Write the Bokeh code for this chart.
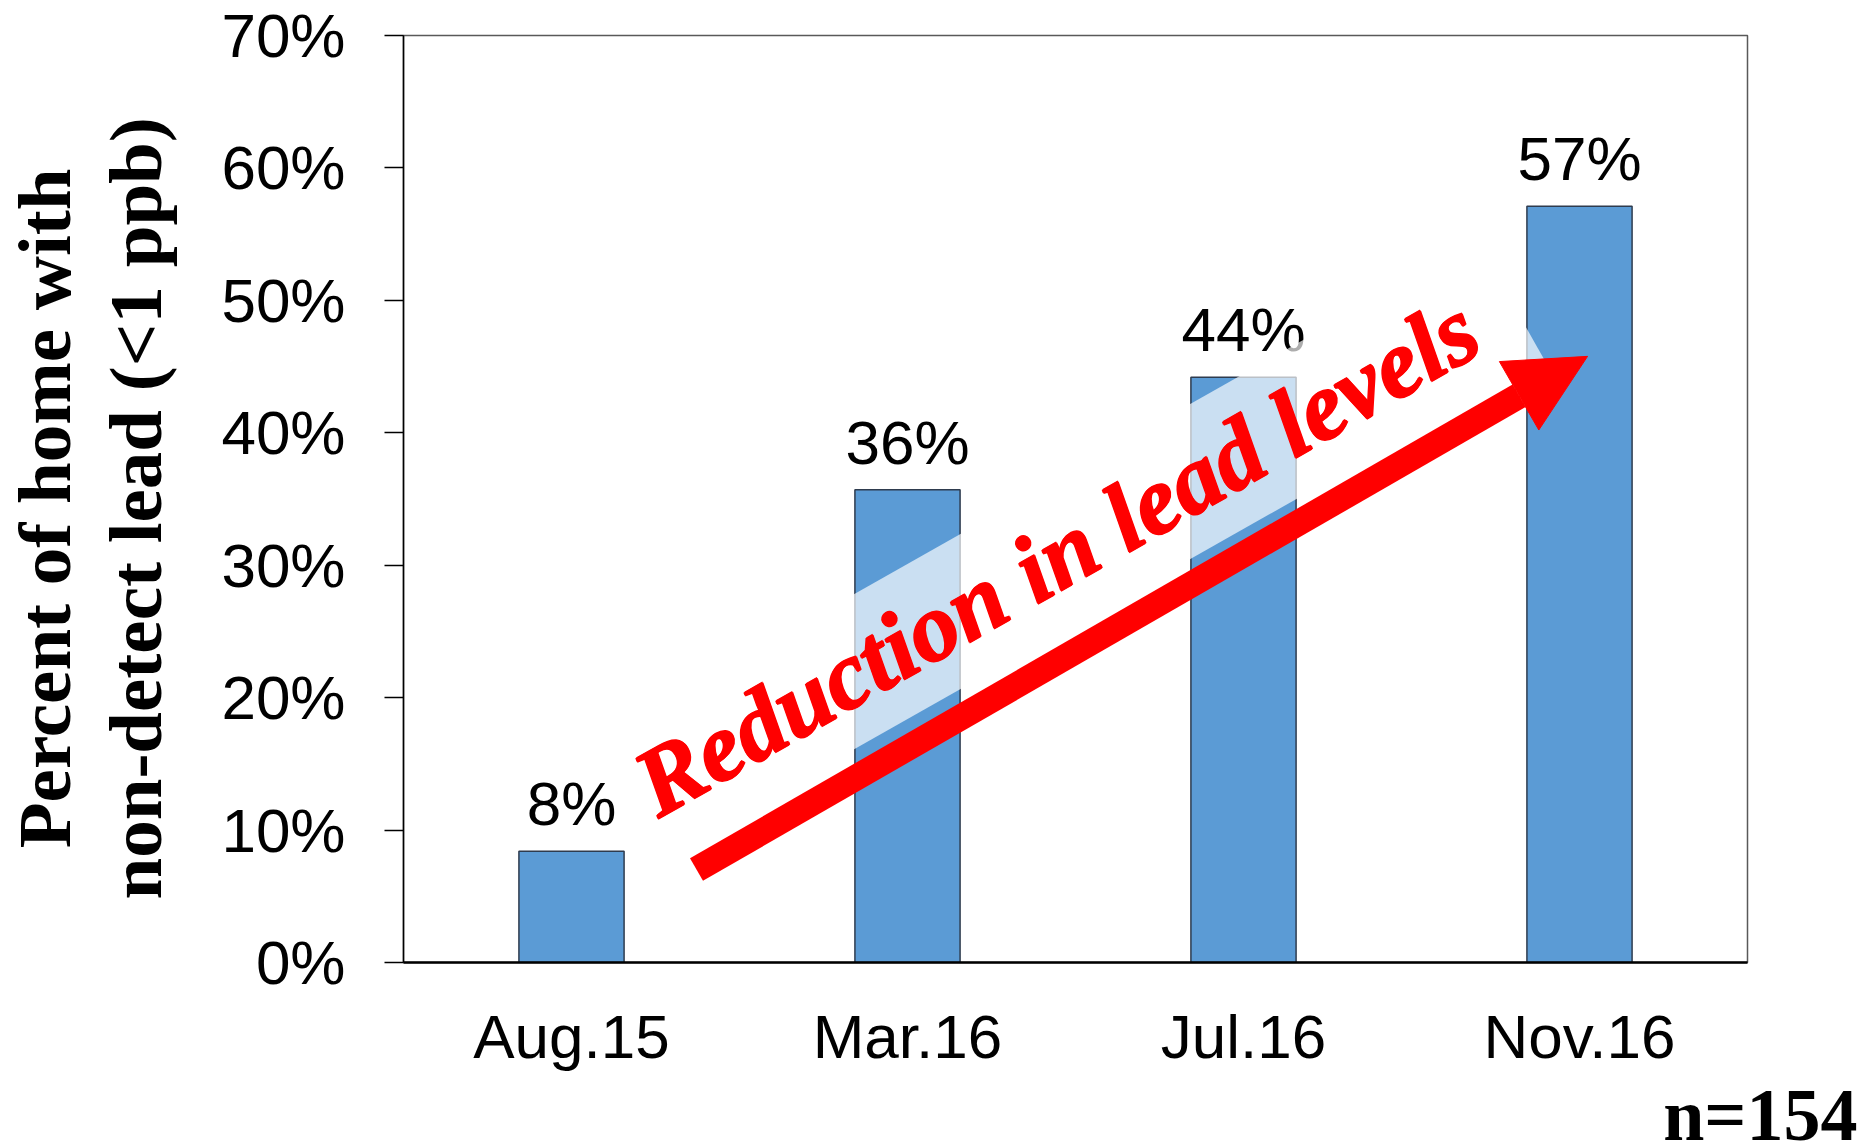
from bokeh.plotting import figure
from bokeh.models import (ColumnDataSource, Range1d, FactorRange, NumeralTickFormatter,
                          FixedTicker, Label, Arrow, NormalHead, Title)
from bokeh.core.properties import value
from bokeh.embed import file_html
from bokeh.resources import INLINE
import math

# ---- data ----
categories = ["Aug.15", "Mar.16", "Jul.16", "Nov.16"]
share_non_detect = [0.084, 0.357, 0.442, 0.571]
bar_labels = ["8%", "36%", "44%", "57%"]
y_ticks = [0.0, 0.1, 0.2, 0.3, 0.4, 0.5, 0.6, 0.7]
y_title = "Percent of home with \nnon-detect lead (<1 ppb) "
trend_text = "Reduction in lead levels"
sample_note = "n=154"

src = ColumnDataSource(dict(cat=categories, val=share_non_detect, lbl=bar_labels))

p = figure(x_range=FactorRange(factors=categories, range_padding=0, factor_padding=0),
           y_range=Range1d(0, 0.7),
           frame_width=1344, frame_height=927,
           min_border_left=401, min_border_right=119,
           min_border_top=35, min_border_bottom=170,
           output_backend="svg", toolbar_location=None)

p.background_fill_color = "white"
p.border_fill_color = "white"
p.outline_line_color = "#595959"
p.outline_line_width = 1.5
p.xgrid.visible = False
p.ygrid.visible = False

SANS = "Liberation Sans"
SERIF = "Liberation Serif"

# y axis
p.yaxis.ticker = FixedTicker(ticks=y_ticks)
p.yaxis.formatter = NumeralTickFormatter(format="0%")
p.yaxis.major_tick_out = 19
p.yaxis.major_tick_in = 0
p.yaxis.minor_tick_out = 0
p.yaxis.minor_tick_in = 0
p.yaxis.major_tick_line_color = "black"
p.yaxis.major_tick_line_width = 1.5
p.yaxis.axis_line_color = "black"
p.yaxis.axis_line_width = 1.5
p.yaxis.major_label_standoff = 39
p.yaxis.major_label_text_font = SANS
p.yaxis.major_label_text_font_size = "62px"
p.yaxis.major_label_text_color = "black"
p.yaxis.axis_label = y_title
p.yaxis.axis_label_text_font = SERIF
p.yaxis.axis_label_text_font_style = "bold"
p.yaxis.axis_label_text_font_size = "75px"
p.yaxis.axis_label_text_line_height = 1.1
p.yaxis.axis_label_text_color = "black"
p.yaxis.axis_label_standoff = 41

# x axis
p.xaxis.major_tick_out = 0
p.xaxis.major_tick_in = 0
p.xaxis.minor_tick_out = 0
p.xaxis.axis_line_color = "black"
p.xaxis.axis_line_width = 2.5
p.xaxis.major_label_standoff = 39
p.xaxis.major_label_text_font = SANS
p.xaxis.major_label_text_font_size = "62px"
p.xaxis.major_label_text_color = "black"

# bars
p.vbar(x="cat", top="val", width=0.313, source=src,
       fill_color="#5B9BD5", line_color="#2E3B4E", line_width=1.5)

# value labels
p.text(x="cat", y="val", text="lbl", source=src,
       text_align="center", text_baseline="bottom", y_offset=-13,
       text_font=value(SANS), text_font_size="62px", text_color="black")

# trend text with translucent band
angle = math.radians(29.5)
text_x, text_y = 1.978, 0.311
pad = dict(left=20, right=46, top=13, bottom=15)
band = Label(x=text_x, y=text_y, text=trend_text, angle=angle,
             text_align="center", text_baseline="middle",
             text_font=SERIF, text_font_style="bold italic", text_font_size="97px",
             text_color="#FF0000",
             background_fill_color="white", background_fill_alpha=0.68,
             padding=pad)
p.add_layout(band)
# slight thickening of the heavy red lettering (same box, no fill)
for dx, dy in [(1, 0), (-1, 0), (0, 1), (0, -1)]:
    p.add_layout(Label(x=text_x, y=text_y, text=trend_text, angle=angle,
                       x_offset=dx, y_offset=dy,
                       text_align="center", text_baseline="middle",
                       text_font=SERIF, text_font_style="bold italic", text_font_size="97px",
                       text_color="#FF0000", background_fill_color=None, padding=pad))

# arrow
arrow = Arrow(end=NormalHead(size=79, fill_color="#FF0000", line_color="#FF0000", line_width=1),
              x_start=0.872, y_start=0.0702, x_end=3.524, y_end=0.4577,
              line_color="#FF0000", line_width=26)
p.add_layout(arrow)

# sample size note under the axis, right side
note = Title(text=sample_note, align="right", vertical_align="top", offset=-110, standoff=0,
             text_font=SERIF, text_font_style="bold", text_font_size="74px", text_color="black")
p.add_layout(note, "below")

open("out.html", "w").write(file_html(p, INLINE))
